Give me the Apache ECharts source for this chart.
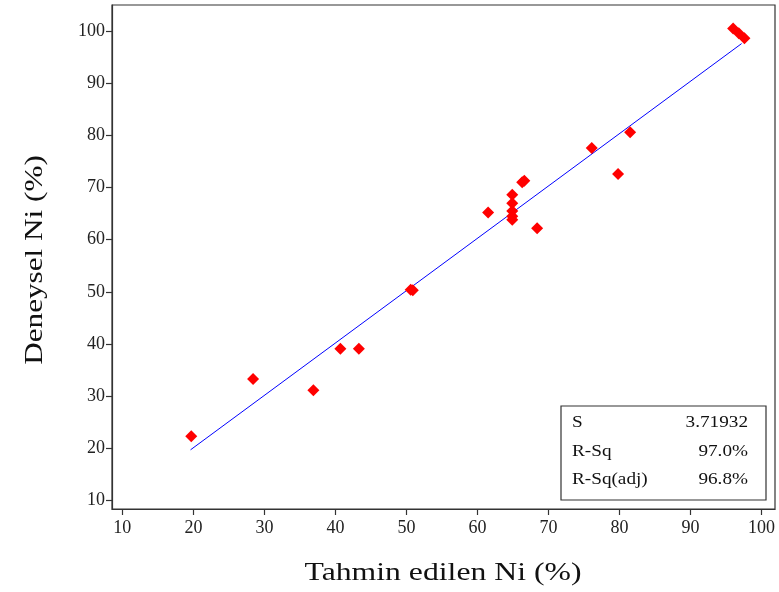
<!DOCTYPE html>
<html>
<head>
<meta charset="utf-8">
<script src="https://cdn.jsdelivr.net/npm/echarts@6/dist/echarts.min.js"></script>
<style>html,body{margin:0;padding:0;background:#fff}#c{width:779px;height:592px}</style>
</head>
<body>
<div id="c"></div>
<script>
// Data
const predicted = [19.7, 28.4, 36.9, 40.7, 43.3, 50.6, 50.9, 61.5, 64.9, 64.9, 64.9, 64.9, 64.9, 66.3, 66.6, 68.4, 76.1, 79.8, 81.5, 96.0, 96.8, 97.6];
const experimental = [22.3, 33.3, 31.1, 39.1, 39.1, 50.4, 50.3, 65.2, 68.6, 67.0, 65.5, 64.5, 63.8, 71.0, 71.3, 62.2, 77.6, 72.6, 80.6, 100.5, 99.6, 98.6];
const fitX = [19.6, 97.2];
const fitY = [19.7, 97.6];
const xTicks = [10, 20, 30, 40, 50, 60, 70, 80, 90, 100];
const yTicks = [10, 20, 30, 40, 50, 60, 70, 80, 90, 100];
const statLabels = ['S', 'R-Sq', 'R-Sq(adj)'];
const statValues = ['3.71932', '97.0%', '96.8%'];
const xTitle = 'Tahmin edilen Ni (%)';
const yTitle = 'Deneysel Ni (%)';

const font = '"Liberation Serif", "Times New Roman", serif';
const chart = echarts.init(document.getElementById('c'), null, {renderer: 'canvas'});

const gfx = [
  {type: 'rect', shape: {x: 561, y: 406, width: 205, height: 94},
   style: {fill: '#fff', stroke: '#333', lineWidth: 1.2}, z: 100},
  {type: 'text', x: 443, y: 573, scaleX: 1.22, z: 100,
   style: {text: xTitle, font: '26px ' + font, fill: '#111', textAlign: 'center', textVerticalAlign: 'middle'}},
  {type: 'text', x: 35, y: 260, rotation: Math.PI / 2, scaleX: 1.2, z: 100,
   style: {text: yTitle, font: '26px ' + font, fill: '#111', textAlign: 'center', textVerticalAlign: 'middle'}}
];
statLabels.forEach((t, i) => {
  const y = 423 + i * 28.5;
  gfx.push({type: 'text', x: 572, y: y, scaleX: 1.2, z: 101,
    style: {text: t, font: '16px ' + font, fill: '#111', textAlign: 'left', textVerticalAlign: 'middle'}});
  gfx.push({type: 'text', x: 748, y: y, scaleX: 1.2, z: 101,
    style: {text: statValues[i], font: '16px ' + font, fill: '#111', textAlign: 'right', textVerticalAlign: 'middle'}});
});

chart.setOption({
  animation: false,
  grid: {left: 112, right: 4, top: 5, bottom: 83, show: true, borderColor: '#333', borderWidth: 1.2},
  xAxis: {
    type: 'value', min: 8.54, max: 101.9,
    axisLine: {show: true, lineStyle: {color: '#333', width: 1.2}},
    axisTick: {show: true, length: 6, customValues: xTicks, lineStyle: {color: '#333', width: 1.2}},
    axisLabel: {customValues: xTicks, fontFamily: font, fontSize: 18, color: '#222', margin: 10},
    splitLine: {show: false}
  },
  yAxis: {
    type: 'value', min: 8.35, max: 105,
    axisLine: {show: true, lineStyle: {color: '#333', width: 1.2}},
    axisTick: {show: true, length: 6, customValues: yTicks, lineStyle: {color: '#333', width: 1.2}},
    axisLabel: {customValues: yTicks, fontFamily: font, fontSize: 18, color: '#222', margin: 7},
    splitLine: {show: false}
  },
  series: [
    {
      type: 'line', data: fitX.map((x, i) => [x, fitY[i]]), symbol: 'none',
      lineStyle: {color: '#0000ff', width: 1}, z: 2
    },
    {
      type: 'scatter', data: predicted.map((x, i) => [x, experimental[i]]),
      symbol: 'diamond', symbolSize: 12, itemStyle: {color: '#ff0000', opacity: 1}, z: 3
    }
  ],
  graphic: gfx
});
</script>
</body>
</html>
